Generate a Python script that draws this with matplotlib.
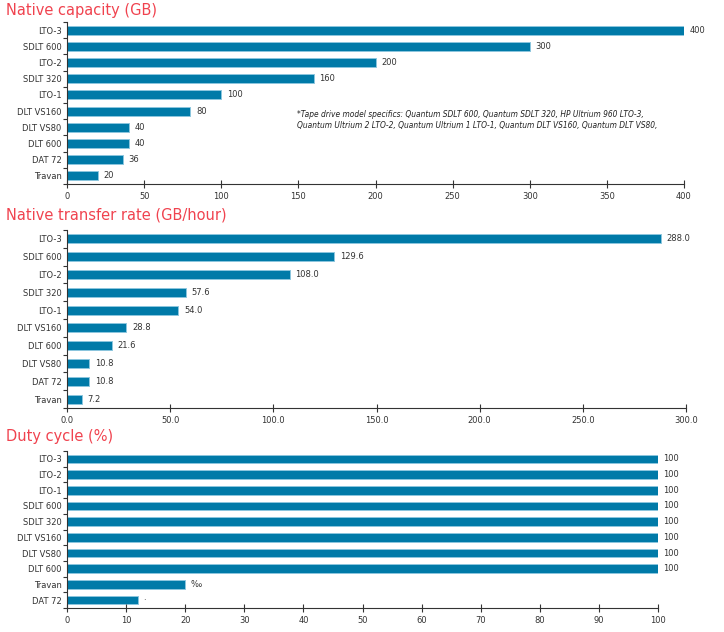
import matplotlib
matplotlib.use('Agg')
import matplotlib.pyplot as plt
from matplotlib.ticker import MultipleLocator, FormatStrFormatter

# data
cap_labels = ['LTO-3', 'SDLT 600', 'LTO-2', 'SDLT 320', 'LTO-1',
              'DLT VS160', 'DLT VS80', 'DLT 600', 'DAT 72', 'Travan']
cap_values = [400, 300, 200, 160, 100, 80, 40, 40, 36, 20]
cap_text = ['400', '300', '200', '160', '100', '80', '40', '40', '36', '20']

rate_labels = ['LTO-3', 'SDLT 600', 'LTO-2', 'SDLT 320', 'LTO-1',
               'DLT VS160', 'DLT 600', 'DLT VS80', 'DAT 72', 'Travan']
rate_values = [288.0, 129.6, 108.0, 57.6, 54.0, 28.8, 21.6, 10.8, 10.8, 7.2]
rate_text = ['288.0', '129.6', '108.0', '57.6', '54.0', '28.8', '21.6',
             '10.8', '10.8', '7.2']

duty_labels = ['LTO-3', 'LTO-2', 'LTO-1', 'SDLT 600', 'SDLT 320',
               'DLT VS160', 'DLT VS80', 'DLT 600', 'Travan', 'DAT 72']
duty_values = [100, 100, 100, 100, 100, 100, 100, 100, 20, 12]
duty_text = ['100', '100', '100', '100', '100', '100', '100', '100', '‰', '·']

footnote = ('*Tape drive model specifics: Quantum SDLT 600, Quantum SDLT 320, HP Ultrium 960 LTO-3,\n'
            'Quantum Ultrium 2 LTO-2, Quantum Ultrium 1 LTO-1, Quantum DLT VS160, Quantum DLT VS80,')

bar_color = '#007aa8'
edge_color = '#8cc6de'
title_color = '#f0434f'
text_color = '#333333'

fig = plt.figure(figsize=(7.24, 6.32), dpi=100)


def panel(rect, labels, values, texts, xmax, step, fmt, title, title_y, bh):
    ax = fig.add_axes(rect)
    y = list(range(len(labels)))
    ax.barh(y, values, height=bh, color=bar_color, edgecolor=edge_color,
            linewidth=0.7)
    ax.set_ylim(len(labels) - 0.5, -0.5)
    ax.set_xlim(0, xmax)
    ax.set_yticks(y)
    ax.set_yticklabels(labels, fontsize=6, color=text_color)
    ax.set_yticks([i + 0.5 for i in range(-1, len(labels))], minor=True)
    ax.tick_params(axis='y', which='major', length=0, pad=4)
    ax.tick_params(axis='y', which='minor', length=3, direction='out',
                   color='#333333', width=0.8)
    ax.xaxis.set_major_locator(MultipleLocator(step))
    ax.xaxis.set_major_formatter(FormatStrFormatter(fmt))
    ax.tick_params(axis='x', direction='inout', length=6, width=0.8,
                   labelsize=6, labelcolor=text_color, color='#333333', pad=3)
    for s in ['top', 'right']:
        ax.spines[s].set_visible(False)
    for s in ['left', 'bottom']:
        ax.spines[s].set_color('#333333')
        ax.spines[s].set_linewidth(0.8)
    for yi, v, t in zip(y, values, texts):
        ax.annotate(t, (v, yi), xytext=(4, 0), textcoords='offset points',
                    va='center', ha='left', fontsize=6, color=text_color)
    fig.text(6 / 724, 1 - title_y / 632, title, fontsize=10.5,
             color=title_color, va='center', ha='left')
    return ax


ax1 = panel([67 / 724, 1 - 184 / 632, 617 / 724, 162 / 632],
            cap_labels, cap_values, cap_text, 400, 50, '%d',
            'Native capacity (GB)', 10, 0.55)
ax1.text(0.373, 0.395, footnote, transform=ax1.transAxes, fontsize=5.45,
         style='italic', color='#222222', va='center', ha='left',
         linespacing=1.4)

panel([67 / 724, 1 - 408 / 632, 619 / 724, 178 / 632],
      rate_labels, rate_values, rate_text, 300, 50, '%.1f',
      'Native transfer rate (GB/hour)', 215, 0.5)

panel([67 / 724, 1 - 608 / 632, 591 / 724, 157 / 632],
      duty_labels, duty_values, duty_text, 100, 10, '%d',
      'Duty cycle (%)', 437, 0.55)

fig.savefig('out.png', dpi=100)
